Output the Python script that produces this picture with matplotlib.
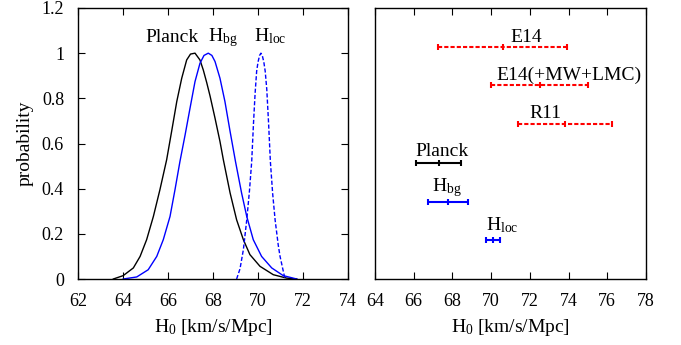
import matplotlib
matplotlib.use("Agg")
import matplotlib.pyplot as plt

plt.rcParams['font.family'] = ['Liberation Serif', 'DejaVu Serif']
plt.rcParams['mathtext.fontset'] = 'custom'
plt.rcParams['mathtext.rm'] = 'Liberation Serif'
plt.rcParams['mathtext.it'] = 'Liberation Serif'

# probability curves
planck_x = [63.57, 64.01, 64.46, 64.76, 65.05, 65.35, 65.64, 65.94, 66.16, 66.39, 66.61,
            66.83, 67.0, 67.2, 67.42, 67.57, 67.72, 67.87, 68.09, 68.31, 68.46, 68.76,
            69.05, 69.35, 69.64, 70.09, 70.68, 71.27, 71.72]
planck_y = [0.0, 0.015, 0.049, 0.1, 0.174, 0.277, 0.395, 0.528, 0.653, 0.786, 0.889,
            0.97, 0.996, 1.0, 0.97, 0.925, 0.87, 0.81, 0.712, 0.609, 0.528, 0.381,
            0.262, 0.174, 0.108, 0.056, 0.019, 0.004, 0.0]

hbg_x = [64.01, 64.61, 65.12, 65.5, 65.79, 66.09, 66.31, 66.53, 66.76, 66.98, 67.2,
         67.42, 67.6, 67.79, 67.95, 68.09, 68.31, 68.53, 68.76, 69.0, 69.27, 69.5,
         69.79, 70.16, 70.61, 71.12, 71.72]
hbg_y = [0.0, 0.009, 0.041, 0.1, 0.174, 0.277, 0.395, 0.52, 0.638, 0.757, 0.874,
         0.955, 0.99, 1.0, 0.99, 0.963, 0.889, 0.786, 0.653, 0.52, 0.381, 0.277,
         0.174, 0.1, 0.049, 0.015, 0.0]

hloc_x = [69.05, 69.2, 69.35, 69.5, 69.62, 69.72, 69.8, 69.87, 69.94, 70.0, 70.07, 70.13,
          70.19, 70.26, 70.32, 70.39, 70.47, 70.55, 70.65, 70.76, 70.9, 70.98, 71.2]
hloc_y = [0.0, 0.045, 0.13, 0.262, 0.39, 0.52, 0.69, 0.82, 0.92, 0.96, 0.99, 1.0,
          0.99, 0.96, 0.92, 0.84, 0.69, 0.52, 0.38, 0.262, 0.15, 0.1, 0.0]

# H0 measurements for the right panel (value, lower end, upper end)
meas_names = ['E14', 'E14(+MW+LMC)', 'R11', 'Planck', 'H$_{\\rm bg}$', 'H$_{\\rm loc}$']
meas_val = [70.6, 72.5, 73.8, 67.3, 67.75, 70.1]
meas_lo = [67.27, 69.97, 71.37, 66.12, 66.72, 69.73]
meas_hi = [73.93, 75.02, 76.26, 68.44, 68.82, 70.46]
meas_row = [6, 5, 4, 3, 2, 1]
meas_color = ['red', 'red', 'red', 'black', 'blue', 'blue']
meas_dotted = [True, True, True, False, False, False]
label_x = [71.8, 74.0, 72.8, 67.45, 67.7, 70.56]
label_y = [6.12, 5.13, 4.16, 3.19, 2.26, 1.27]

fs = 14
tfs = 13

fig = plt.figure(figsize=(6.81, 3.45), dpi=100)
ax1 = fig.add_axes([78 / 681, 66 / 345, 270 / 681, 271 / 345])
ax2 = fig.add_axes([375 / 681, 66 / 345, 271 / 681, 271 / 345])

ax1.plot(planck_x, planck_y, color='black', lw=1.0)
ax1.plot(hbg_x, hbg_y, color='blue', lw=1.0)
ax1.plot(hloc_x, hloc_y, color='blue', lw=1.0, ls=(0, (3, 1.5)))
ax1.text(66.16, 1.051, 'Planck', ha='center', va='baseline', fontsize=fs)
ax1.text(68.42, 1.051, 'H$_{\\rm bg}$', ha='center', va='baseline', fontsize=fs)
ax1.text(70.56, 1.051, 'H$_{\\rm loc}$', ha='center', va='baseline', fontsize=fs)

ax1.set_xlim(62, 74)
ax1.set_ylim(0, 1.2)
ax1.set_xticks(range(62, 75, 2))
ax1.set_yticks([0, 0.2, 0.4, 0.6, 0.8, 1.0, 1.2])
ax1.set_yticklabels(['0', '0.2', '0.4', '0.6', '0.8', '1', '1.2'])
ax1.set_ylabel('probability', fontsize=fs, labelpad=6)
ax1.set_xlabel('H$_0$ [km/s/Mpc]', fontsize=fs, labelpad=5)

for i in range(len(meas_names)):
    ls = (0, (2, 1)) if meas_dotted[i] else '-'
    eb = ax2.errorbar(meas_val[i], meas_row[i],
                      xerr=[[meas_val[i] - meas_lo[i]], [meas_hi[i] - meas_val[i]]],
                      fmt='none', ecolor=meas_color[i], elinewidth=1.5, capsize=2, capthick=1.5)
    eb[2][0].set_linestyle(ls)
    ax2.plot(meas_val[i], meas_row[i], marker='|', color=meas_color[i], ms=4, mew=1.5)
    ax2.text(label_x[i], label_y[i], meas_names[i], ha='center', va='baseline', fontsize=fs)

ax2.set_xlim(64, 78)
ax2.set_ylim(0, 7)
ax2.set_xticks(range(64, 79, 2))
ax2.set_yticks([])
ax2.set_xlabel('H$_0$ [km/s/Mpc]', fontsize=fs, labelpad=5)

for ax in (ax1, ax2):
    ax.tick_params(direction='in', top=True, right=True, labelsize=tfs, length=5, pad=10)
    for s in ax.spines.values():
        s.set_linewidth(1.0)

fig.savefig('out.png', dpi=100)
